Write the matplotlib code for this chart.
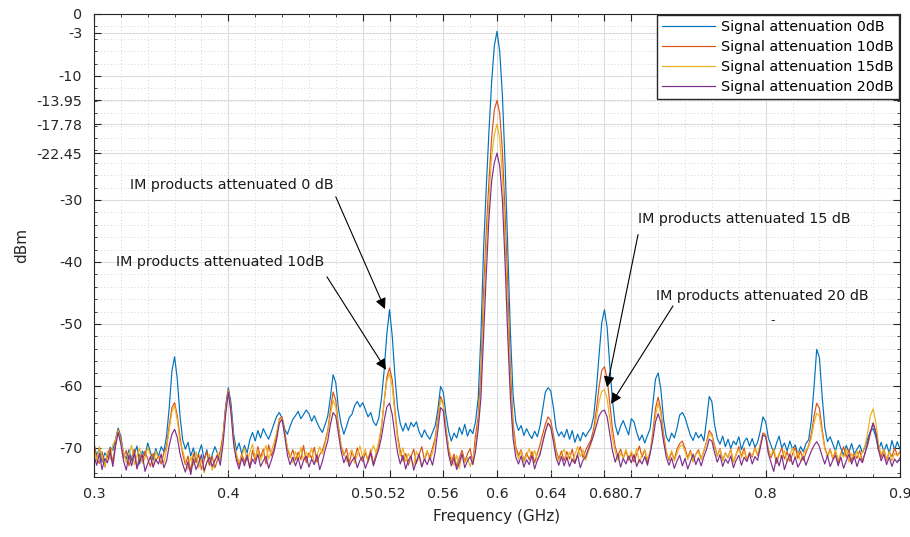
import numpy as np
import matplotlib.pyplot as plt
from matplotlib.ticker import MultipleLocator

# frequency grid (GHz), 2 MHz step
freq = np.linspace(0.3, 0.9, 301)

# spectrum levels in dBm (rows of 25 points = 50 MHz)
att0 = [
    -69.5, -71.2, -70.1, -72.3, -70.8, -71.5, -69.9, -70.4, -68.6, -66.8, -68.2, -70.9, -71.8, -70.3, -72.1, -71.0, -69.7, -72.6, -70.5, -71.3, -69.2, -70.7, -72.0, -70.1, -71.4,
    -69.8, -70.6, -68.1, -63.5, -57.6, -55.3, -58.9, -64.8, -68.7, -70.2, -69.1, -71.3, -70.0, -72.2, -70.8, -69.5, -71.9, -70.3, -72.8, -71.1, -69.8, -70.9, -72.0, -68.4, -63.2,
    -60.3, -62.8, -67.9, -70.4, -69.2, -71.0, -69.6, -70.8, -68.7, -67.5, -68.9, -67.2, -68.4, -66.9, -67.8, -68.6, -67.4, -66.1, -64.9, -64.3, -65.2, -67.0, -67.8, -66.5, -65.4,
    -64.8, -64.1, -65.3, -64.6, -63.9, -64.5, -65.7, -64.8, -65.9, -66.8, -67.5, -66.3, -64.9, -61.8, -58.2, -59.5, -63.7, -66.2, -67.8, -66.5, -65.1, -64.6, -63.2, -62.5, -63.4,
    -62.7, -63.8, -65.0, -64.3, -65.8, -66.4, -65.2, -62.0, -57.5, -51.6, -47.7, -51.9, -58.4, -63.5, -66.1, -67.3, -66.0, -67.2, -65.9, -66.6, -65.8, -67.4, -68.3, -67.1, -68.0,
    -68.6, -67.5, -66.4, -63.8, -60.1, -61.0, -64.6, -67.3, -68.9, -67.6, -68.4, -66.7, -67.8, -66.2, -68.1, -67.0, -67.7, -65.8, -62.0, -52.0, -38.0, -28.0, -19.0, -11.0, -5.2,
    -2.8, -6.0, -13.0, -24.0, -38.0, -51.5, -61.5, -65.8, -67.2, -66.4, -68.0, -66.9, -67.8, -68.5, -67.3, -68.2, -66.5, -63.8, -61.0, -60.3, -60.8, -63.5, -66.9, -68.1, -67.4,
    -68.3, -67.0, -68.6, -67.2, -69.1, -67.8, -68.9, -67.5, -68.2, -67.4, -66.8, -64.9, -60.5, -55.0, -49.8, -47.7, -50.6, -56.8, -62.4, -66.3, -67.9, -66.5, -65.6, -66.8, -67.9,
    -65.3, -65.8, -67.5, -68.8, -67.9, -69.2, -68.0, -66.9, -63.0, -58.9, -57.9, -60.6, -65.4, -68.2, -69.0, -67.6, -68.4, -66.8, -64.7, -64.3, -65.1, -66.6, -68.0, -68.8, -67.5,
    -68.4, -67.8, -68.9, -65.5, -61.7, -62.6, -66.3, -68.5, -69.4, -68.1, -69.8, -68.6, -70.1, -68.9, -69.5, -68.2, -70.3, -69.0, -68.4, -69.7, -68.5, -69.9, -69.1, -67.3, -65.0,
    -65.8, -68.4, -69.6, -70.8, -69.3, -68.1, -70.0, -69.2, -70.5, -68.9, -70.2, -69.5, -71.0, -69.8, -70.6, -69.3, -68.7, -65.6, -60.2, -54.1, -55.4, -61.5, -66.7, -69.0, -68.2,
    -69.4, -70.5, -68.8, -70.1, -71.2, -69.6, -70.7, -69.3, -71.0, -70.2, -69.5, -70.8, -69.8, -68.5, -67.3, -66.9, -68.2, -70.4, -69.1, -70.6, -69.4, -70.9, -68.8, -70.3, -69.0,
    -70.2,
]
att10 = [
    -69.0, -71.8, -72.5, -70.6, -73.1, -71.2, -70.0, -72.4, -69.3, -67.0, -68.5, -71.6, -70.4, -72.9, -71.5, -70.2, -73.4, -71.0, -72.2, -70.5, -71.8, -73.0, -70.9, -72.1, -71.3,
    -72.6, -70.8, -69.7, -66.4, -63.5, -62.7, -64.8, -68.2, -71.0, -72.7, -71.3, -73.8, -70.9, -72.4, -71.1, -73.5, -72.0, -70.6, -72.8, -71.4, -73.2, -71.9, -70.5, -68.0, -63.6,
    -60.5, -63.8, -68.6, -71.4, -72.8, -70.9, -72.3, -71.0, -73.3, -70.4, -72.1, -69.8, -71.5, -70.2, -72.6, -69.5, -71.3, -70.1, -67.9, -65.3, -65.0, -67.4, -70.2, -71.6, -70.3,
    -72.0, -70.7, -71.9, -69.6, -72.4, -70.8, -71.7, -69.9, -72.3, -71.1, -70.4, -69.0, -67.2, -63.9, -61.0, -62.3, -66.5, -69.8, -71.2, -70.1, -72.5, -70.6, -71.8, -70.0, -71.4,
    -72.2, -70.8, -71.9, -70.3, -72.6, -71.0, -69.4, -66.8, -62.5, -58.6, -57.1, -59.0, -63.8, -68.0, -70.5, -72.1, -70.9, -72.8, -71.4, -70.2, -72.5, -71.1, -69.8, -72.0, -70.7,
    -71.5, -70.0, -68.4, -65.0, -61.7, -62.9, -66.8, -70.1, -72.3, -71.0, -73.0, -71.6, -70.4, -72.2, -71.0, -70.1, -72.4, -68.0, -65.0, -58.0, -45.0, -35.0, -27.0, -20.0, -15.5,
    -13.95, -16.0, -22.0, -32.0, -44.0, -57.5, -66.0, -69.8, -71.2, -70.3, -72.1, -70.8, -71.9, -70.6, -72.4, -70.9, -69.5, -67.8, -66.2, -65.0, -65.6, -67.9, -70.4, -71.8, -70.5,
    -72.1, -70.6, -71.8, -70.2, -72.5, -71.0, -69.8, -71.6, -70.4, -69.5, -68.7, -66.9, -63.8, -60.1, -57.5, -56.9, -58.8, -62.9, -67.0, -69.8, -71.3, -70.2, -71.7, -70.5, -72.0,
    -70.9, -72.3, -71.0, -69.7, -71.5, -70.3, -72.4, -70.8, -67.5, -63.6, -61.8, -63.9, -67.8, -70.6, -72.0, -70.7, -71.9, -70.2, -69.3, -68.9, -70.1, -71.6, -70.4, -72.2, -71.0,
    -70.3, -71.8, -70.5, -69.0, -67.2, -67.8, -69.6, -71.3, -70.1, -72.0, -70.8, -71.6, -70.2, -72.3, -71.1, -69.8, -71.4, -70.0, -72.1, -70.7, -71.5, -69.9, -71.2, -69.5, -67.6,
    -67.9, -70.2, -71.6, -70.4, -72.5, -71.1, -70.0, -71.8, -70.6, -72.2, -71.0, -69.9, -71.7, -70.5, -72.0, -70.8, -69.6, -67.8, -64.9, -62.8, -63.6, -66.9, -69.9, -71.3, -70.2,
    -71.8, -70.6, -72.4, -71.0, -69.8, -71.5, -70.3, -72.1, -70.9, -71.7, -70.4, -72.2, -70.8, -69.5, -67.6, -66.0, -67.4, -70.1, -71.5, -70.3, -72.0, -70.7, -71.4, -70.0, -71.2,
    -70.6,
]
att15 = [
    -70.4, -72.0, -69.8, -71.5, -73.0, -70.6, -71.9, -69.5, -68.7, -67.2, -69.0, -70.8, -72.4, -71.1, -69.6, -72.7, -71.3, -70.0, -72.5, -71.6, -69.9, -71.2, -73.1, -70.5, -71.7,
    -71.2, -72.4, -70.3, -67.0, -64.2, -63.2, -65.5, -69.0, -70.4, -72.1, -73.5, -71.4, -72.8, -70.6, -73.2, -71.8, -74.0, -72.3, -71.0, -73.6, -72.1, -70.8, -71.9, -68.5, -64.0,
    -60.8, -64.2, -69.0, -70.9, -72.4, -71.3, -70.0, -72.1, -70.8, -69.4, -71.6, -70.3, -72.0, -70.9, -69.6, -71.8, -70.5, -69.2, -67.5, -65.6, -65.2, -67.8, -69.9, -71.2, -72.4,
    -70.6, -71.8, -69.9, -72.1, -70.7, -71.5, -70.0, -72.6, -71.2, -69.8, -71.0, -69.4, -67.6, -64.6, -62.3, -63.4, -67.0, -69.6, -70.8, -72.2, -71.0, -70.3, -72.5, -71.1, -69.7,
    -71.6, -70.2, -72.4, -71.0, -69.6, -70.8, -68.9, -66.5, -62.6, -59.2, -58.0, -60.1, -64.5, -68.6, -71.3, -70.0, -72.2, -70.9, -71.8, -72.9, -70.6, -71.5, -73.0, -71.7, -70.4,
    -72.0, -70.8, -68.9, -65.5, -62.2, -63.0, -67.1, -70.0, -71.6, -72.8, -71.2, -73.3, -70.9, -72.4, -71.5, -73.0, -71.8, -69.5, -66.0, -60.0, -48.0, -38.0, -30.0, -23.0, -19.5,
    -17.78, -20.0, -26.0, -36.0, -48.0, -60.0, -67.2, -70.4, -71.8, -70.5, -72.3, -71.2, -70.1, -71.7, -70.4, -72.0, -70.8, -69.0, -67.3, -66.0, -66.4, -68.5, -70.9, -72.1, -71.0,
    -70.2, -71.9, -70.7, -72.3, -71.1, -69.8, -71.4, -70.3, -72.0, -70.6, -69.4, -67.8, -65.2, -62.5, -60.9, -60.6, -62.1, -65.4, -68.5, -70.6, -72.0, -70.9, -71.6, -70.2, -71.8,
    -70.5, -71.7, -70.1, -72.4, -71.0, -70.3, -71.8, -70.6, -68.2, -64.8, -62.8, -64.5, -68.4, -70.9, -71.7, -70.4, -72.1, -70.9, -69.8, -69.5, -70.6, -71.9, -70.7, -72.3, -71.1,
    -70.6, -71.9, -70.4, -69.2, -67.8, -68.1, -70.0, -71.4, -70.2, -72.1, -70.9, -71.5, -70.3, -72.4, -71.0, -70.2, -71.6, -70.5, -71.9, -70.8, -71.3, -70.1, -71.0, -69.4, -67.9,
    -68.0, -70.5, -71.3, -70.1, -72.0, -70.9, -71.7, -70.4, -72.3, -71.1, -70.0, -71.8, -70.6, -72.2, -71.0, -70.3, -69.8, -68.4, -66.0, -64.4, -64.9, -67.6, -70.2, -71.5, -70.4,
    -71.6, -70.3, -72.0, -70.8, -71.5, -70.1, -72.3, -70.9, -71.7, -70.5, -71.9, -70.7, -69.6, -67.5, -64.8, -63.7, -65.9, -69.4, -71.0, -70.2, -71.8, -70.6, -72.1, -70.9, -71.3,
    -70.8,
]
att20 = [
    -71.3, -72.8, -70.9, -73.5, -71.7, -72.4, -70.6, -73.0, -69.8, -67.5, -69.4, -72.1, -73.6, -71.2, -72.9, -70.8, -73.3, -72.0, -71.1, -73.8, -72.5, -71.4, -73.1, -71.9, -72.6,
    -71.0, -73.2, -72.1, -69.6, -67.8, -67.0, -68.3, -70.9, -72.6, -73.9, -72.2, -74.3, -71.8, -73.5, -72.4, -71.1, -73.7, -72.3, -71.5, -73.0, -72.0, -71.2, -72.8, -69.5, -64.7,
    -61.0, -64.3, -69.5, -72.0, -73.4, -71.6, -72.9, -71.3, -73.2, -71.8, -72.6, -71.0, -73.0, -72.1, -71.4, -73.3, -72.0, -70.6, -68.6, -66.0, -65.4, -68.1, -71.2, -72.7, -71.5,
    -72.9, -71.6, -73.4, -72.0, -71.3, -73.1, -71.8, -72.7, -71.1, -73.5, -72.2, -70.4, -68.9, -66.2, -64.3, -64.9, -67.8, -70.6, -72.4, -71.3, -73.0, -72.1, -71.5, -73.2, -72.0,
    -71.4, -73.3, -72.1, -70.8, -72.9, -71.5, -70.2, -68.3, -65.6, -63.4, -62.8, -64.6, -67.9, -70.8, -72.6, -71.2, -73.4, -72.0, -71.3, -73.6, -72.2, -71.0, -73.1, -71.8, -72.7,
    -71.5, -72.8, -70.6, -67.0, -63.5, -64.0, -67.9, -71.1, -72.9, -71.6, -73.5, -72.3, -71.0, -73.2, -72.1, -71.4, -72.7, -70.5, -67.0, -62.0, -52.0, -42.0, -33.0, -27.0, -24.0,
    -22.45, -24.5, -30.0, -40.0, -52.0, -62.0, -68.5, -71.5, -72.6, -71.3, -73.1, -71.9, -72.7, -71.2, -73.4, -72.0, -71.1, -69.2, -67.4, -66.0, -66.7, -69.0, -71.6, -72.8, -71.4,
    -72.9, -71.5, -73.0, -71.8, -72.5, -71.1, -73.2, -72.0, -71.4, -70.2, -69.1, -67.9, -66.4, -64.8, -64.1, -63.9, -65.0, -67.8, -70.5, -72.3, -71.0, -73.1, -71.7, -72.6, -71.3,
    -72.4, -71.1, -73.0, -71.9, -72.6, -71.4, -72.8, -70.9, -68.7, -65.8, -64.5, -65.9, -69.0, -71.5, -72.8, -71.6, -73.3, -72.1, -71.2, -72.9, -71.7, -73.4, -72.2, -71.0, -72.7,
    -71.6, -72.9, -71.4, -70.2, -68.6, -68.9, -70.8, -72.3, -71.1, -73.0, -71.8, -72.5, -71.3, -73.2, -72.0, -71.2, -72.8, -71.5, -72.2, -70.9, -72.6, -71.4, -72.0, -70.0, -67.9,
    -68.2, -70.9, -72.4, -73.8, -71.6, -72.9, -71.2, -73.5, -72.1, -71.0, -72.7, -71.5, -73.1, -72.3, -71.4, -72.8, -71.6, -70.5, -69.6, -69.0, -69.8, -71.3, -72.6, -71.2, -73.0,
    -72.0, -71.2, -72.9, -71.5, -73.3, -72.1, -71.0, -72.6, -71.4, -73.0, -71.7, -72.4, -70.8, -69.2, -67.4, -66.0, -67.6, -70.3, -72.1, -71.0, -72.7, -71.5, -73.0, -71.8, -72.4,
    -71.6,
]

labels = ["Signal attenuation 0dB", "Signal attenuation 10dB",
          "Signal attenuation 15dB", "Signal attenuation 20dB"]
colors = ["#0072BD", "#D95319", "#EDB120", "#7E2F8E"]

xticks = [0.3, 0.4, 0.5, 0.52, 0.56, 0.6, 0.64, 0.68, 0.7, 0.8, 0.9]
yticks = [-70, -60, -50, -40, -30, -22.45, -17.78, -13.95, -10, -3, 0]
ytick_labels = ["-70", "-60", "-50", "-40", "-30", "-22.45", "-17.78", "-13.95", "-10", "-3", "0"]

# annotations: text, text pos, arrow tail, arrow tip
notes = [
    ("IM products attenuated 0 dB", (0.327, -27.6), (0.480, -29.5), (0.5166, -47.6)),
    ("IM products attenuated 10dB", (0.3164, -40.0), (0.4734, -42.4), (0.5174, -57.4)),
    ("IM products attenuated 15 dB", (0.705, -33.0), (0.705, -35.6), (0.6819, -60.2)),
    ("IM products attenuated 20 dB", (0.7184, -45.5), (0.731, -47.1), (0.6849, -62.9)),
]

plt.rcParams['font.family'] = ['DejaVu Sans']
fig = plt.figure(figsize=(9.1, 5.37), dpi=100)
ax = fig.add_axes([0.1033, 0.1117, 0.8857, 0.8623])

for y, c, lab in zip([att0, att10, att15, att20], colors, labels):
    ax.plot(freq, y, color=c, lw=0.85, label=lab)

ax.set_xlim(0.3, 0.9)
ax.set_ylim(-74.7, 0)
ax.set_xticks(xticks)
ax.set_xticklabels([("%g" % t) for t in xticks])
ax.set_yticks(yticks)
ax.set_yticklabels(ytick_labels)
ax.xaxis.set_minor_locator(MultipleLocator(0.02))
ax.yaxis.set_minor_locator(MultipleLocator(2))
ax.tick_params(which='both', direction='in', top=True, right=True, colors='#262626',
               labelsize=10.3)
ax.tick_params(which='major', length=5, width=0.8)
ax.tick_params(which='minor', length=2.5, width=0.6)
ax.tick_params(axis='y', which='major', pad=8.5)
ax.tick_params(axis='x', which='major', pad=7)
ax.grid(which='major', color='#dcdcdc', lw=0.8)
ax.grid(which='minor', color='#c8c8c8', lw=0.6, ls=(0, (1, 3)))
ax.set_axisbelow(True)
for s in ax.spines.values():
    s.set_color('#262626')
    s.set_linewidth(0.8)

ax.set_xlabel("Frequency (GHz)", fontsize=11, color='#262626', labelpad=6)
ax.set_ylabel("dBm", fontsize=11, color='#262626', labelpad=5)

for txt, tpos, tail, tip in notes:
    ax.text(tpos[0], tpos[1], txt, fontsize=10.3, color='#1a1a1a', va='center', ha='left')
    ax.annotate("", xy=tip, xytext=tail,
                arrowprops=dict(arrowstyle='-|>', color='black', lw=0.8,
                                mutation_scale=16, shrinkA=0, shrinkB=0))
ax.text(0.8055, -49.5, "-", fontsize=9, color='#262626', ha='center', va='center')

leg = ax.legend(loc='upper right', fontsize=10.3, fancybox=False, framealpha=1,
                edgecolor='#262626', borderaxespad=0.1, handlelength=3.7,
                labelspacing=0.42, borderpad=0.35, handletextpad=0.4)
leg.get_frame().set_linewidth(1.0)

fig.savefig("out.png", dpi=100)
